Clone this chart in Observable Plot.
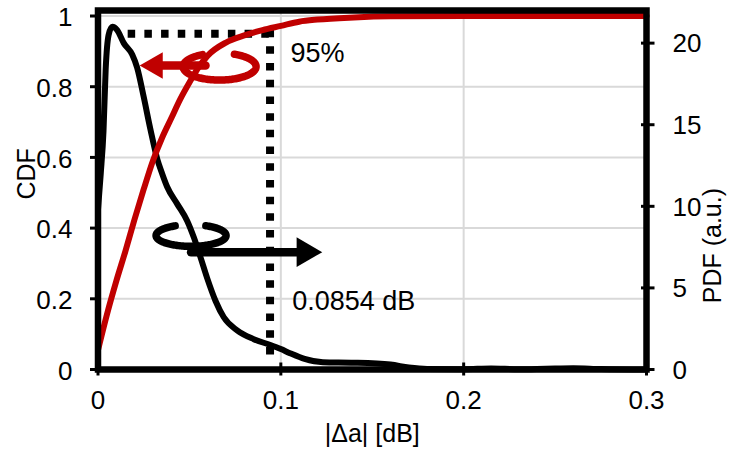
<!DOCTYPE html>
<html><head><meta charset="utf-8">
<script src="https://cdn.jsdelivr.net/npm/d3@7"></script>
<script src="https://cdn.jsdelivr.net/npm/@observablehq/plot@0.6"></script>
<style>
html,body{margin:0;padding:0;background:#fff;}
</style></head><body><div id="chart"></div>
<script>
// ---- tick labels / axes ----
const xTicks = [0, 0.1, 0.2, 0.3];
const cdfTicks = [0, 0.2, 0.4, 0.6, 0.8, 1];
const pdfTicks = [0, 5, 10, 15, 20];
const cdfGrid = [0.2, 0.4, 0.6, 0.8, 1];
const xGrid = [0.1, 0.2];
const pdfMax = 22;
const cdfTop = 1.0156;

// ---- CDF series (red) ----
const cdfX = [0, 0.005, 0.01, 0.015, 0.02, 0.025, 0.03, 0.035, 0.04, 0.045, 0.05, 0.055, 0.06, 0.07, 0.08, 0.09, 0.1, 0.11, 0.12, 0.14, 0.16, 0.2, 0.3];
const cdfY = [0.055, 0.158, 0.25, 0.335, 0.425, 0.51, 0.59, 0.655, 0.71, 0.765, 0.812, 0.855, 0.888, 0.925, 0.945, 0.96, 0.972, 0.984, 0.99, 0.996, 0.999, 1.0, 1.0];

// ---- PDF series (black, a.u.) ----
const pdfX = [0, 0.0015, 0.003, 0.0042, 0.0058, 0.0078, 0.0105, 0.0141, 0.0187, 0.0214, 0.025, 0.0287, 0.0324, 0.0351, 0.0378, 0.0433, 0.0488, 0.0524, 0.056, 0.0597, 0.0643, 0.0688, 0.0761, 0.0852, 0.0943, 0.1, 0.105, 0.113, 0.123, 0.14, 0.16, 0.17, 0.18, 0.2, 0.215, 0.23, 0.245, 0.26, 0.275, 0.3];
const pdfY = [9.8, 12.0, 14.6, 18.4, 20.5, 21.0, 20.8, 20.0, 19.3, 18.5, 16.7, 14.7, 12.9, 12.0, 11.2, 10.15, 9.1, 8.1, 6.9, 5.6, 4.2, 3.2, 2.4, 1.86, 1.5, 1.25, 1.0, 0.65, 0.45, 0.42, 0.3, 0.12, 0.03, 0.02, 0.06, 0.02, 0.05, 0.08, 0.03, 0.0];

// ---- annotation values ----
const level95 = 0.95;
const markerX = 0.0941;
const dottedLeft = 0.0165;
const dottedBottom = 0.025;
const label95 = "95%";
const label95Pos = [0.1053, 0.894];
const labelDb = "0.0854 dB";
const labelDbPos = [0.1062, 0.194];
const redRing = {cx: 0.0665, cy: 0.857, rx: 0.01996, ry: 0.0382, from: 118, to: 427};
const blackRing = {cx: 0.0509, cy: 0.379, rx: 0.01914, ry: 0.0306, from: 117, to: 426};
const redArrowY = 0.86, redArrowX = [0.0588, 0.034], redHeadX = 0.0312;
const blackArrowY = 0.332, blackArrowX = [0.0509, 0.110], blackHeadX = 0.1133;

const RED = "#C00000";
const k = cdfTop / pdfMax;

const cdf = cdfX.map((x, i) => ({x, y: cdfY[i]}));
const pdf = pdfX.map((x, i) => ({x, y: pdfY[i] * k}));
const ring = (r) => {
  const pts = [];
  for (let a = r.from; a <= r.to; a += 2) {
    const t = a * Math.PI / 180;
    pts.push({x: r.cx + r.rx * Math.cos(t), y: r.cy + r.ry * Math.sin(t)});
  }
  return pts;
};

const chart = Plot.plot({
  width: 731, height: 461,
  marginLeft: 97.5, marginRight: 85, marginTop: 10, marginBottom: 92,
  style: {fontFamily: "'Liberation Sans', Arial, sans-serif", fontSize: "26px", background: "white", color: "black", overflow: "visible"},
  x: {domain: [0, 0.3]},
  y: {domain: [0, cdfTop]},
  marks: [
    Plot.ruleY(cdfGrid, {stroke: "#d9d9d9", strokeWidth: 2}),
    Plot.ruleX(xGrid, {stroke: "#d9d9d9", strokeWidth: 2}),
    Plot.ruleY([level95], {x1: dottedLeft, x2: markerX, stroke: "black", strokeWidth: 8, strokeDasharray: "7.5,9.2", strokeDashoffset: 0}),
    Plot.ruleX([markerX], {y1: level95 + 0.01, y2: dottedBottom, stroke: "black", strokeWidth: 8, strokeDasharray: "7.5,9.2"}),
    Plot.line(pdf, {x: "x", y: "y", curve: "monotone-x", stroke: "black", strokeWidth: 6, strokeLinejoin: "round"}),
    Plot.line(cdf, {x: "x", y: "y", curve: "monotone-x", stroke: RED, strokeWidth: 6, strokeLinejoin: "round"}),
    // red annotation (points to left axis)
    Plot.line(ring(redRing), {x: "x", y: "y", curve: "linear", stroke: RED, strokeWidth: 7.5}),
    Plot.line([{x: redArrowX[0], y: redArrowY}, {x: redArrowX[1], y: redArrowY}], {x: "x", y: "y", stroke: RED, strokeWidth: 8.5}),
    Plot.dot([{x: redHeadX, y: redArrowY}], {x: "x", y: "y", symbol: "triangle", r: 9.9, fill: RED, stroke: "none", rotate: -90}),
    // black annotation (points to right axis)
    Plot.line(ring(blackRing), {x: "x", y: "y", curve: "linear", stroke: "black", strokeWidth: 7.5}),
    Plot.line([{x: blackArrowX[0], y: blackArrowY}, {x: blackArrowX[1], y: blackArrowY}], {x: "x", y: "y", stroke: "black", strokeWidth: 8.5}),
    Plot.dot([{x: blackHeadX, y: blackArrowY}], {x: "x", y: "y", symbol: "triangle", r: 11, fill: "black", stroke: "none", rotate: 90}),
    Plot.text([label95], {x: () => label95Pos[0], y: () => label95Pos[1], text: d => d, textAnchor: "start", fontSize: 27}),
    Plot.text([labelDb], {x: () => labelDbPos[0], y: () => labelDbPos[1], text: d => d, textAnchor: "start", fontSize: 27}),
    Plot.frame({stroke: "black", strokeWidth: 6.5}),
    // tick marks
    Plot.ruleX(xTicks, {insetTop: 352.5, insetBottom: -6.5, stroke: "black", strokeWidth: 3}),
    Plot.ruleY(cdfTicks, {insetLeft: -7.5, insetRight: 548.5, stroke: "black", strokeWidth: 3}),
    Plot.ruleY(pdfTicks.map(v => v * k), {insetLeft: 543.5, insetRight: -8.5, stroke: "black", strokeWidth: 3}),
    // axes (labels only)
    Plot.axisX({ticks: xTicks, tickSize: 0, tickPadding: 21.5, tickFormat: d => String(d), label: null}),
    Plot.axisY({anchor: "left", ticks: cdfTicks, tickSize: 0, tickPadding: 25.5, tickFormat: d => String(d), label: null, dy: 2}),
    Plot.axisY({anchor: "right", ticks: pdfTicks.map(v => v * k), tickSize: 0, tickPadding: 26, tickFormat: d => String(Math.round(d / k)), label: null, dy: 1}),
    // axis titles
    Plot.text(["CDF"], {frameAnchor: "left", text: d => d, rotate: -90, dx: -71.5, dy: 9.5, fontSize: 25}),
    Plot.text(["PDF (a.u.)"], {frameAnchor: "right", text: d => d, rotate: -90, dx: 66.5, dy: -2, fontSize: 25}),
    Plot.text(["|Δa| [dB]"], {frameAnchor: "bottom", text: d => d, dy: 72, fontSize: 25})
  ]
});
document.getElementById("chart").appendChild(chart);
</script>
</body></html>
